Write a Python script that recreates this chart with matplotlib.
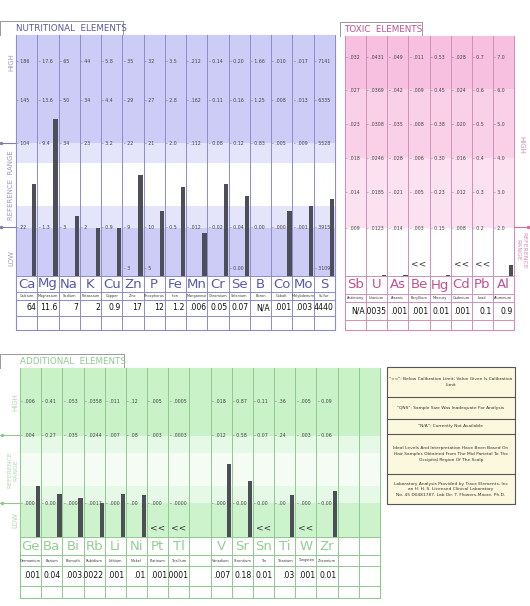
import matplotlib
matplotlib.use("Agg")
import matplotlib.pyplot as plt
from matplotlib.patches import Rectangle

W, H = 530, 606

# ---- nutritional ----
nut_sym = ["Ca","Mg","Na","K","Cu","Zn","P","Fe","Mn","Cr","Se","B","Co","Mo","S"]
nut_name = ["Calcium","Magnesium","Sodium","Potassium","Copper","Zinc","Phosphorus","Iron",
            "Manganese","Chromium","Selenium","Boron","Cobalt","Molybdenum","Sulfur"]
nut_val = ["64","11.6","7","2","0.9","17","12","1.2",".006","0.05","0.07","N/A",".001",".003","4440"]
nut_level = [.38,.65,.25,.20,.20,.42,.27,.37,.18,.38,.33,0,.27,.29,.32]
nut_rows = [.89,.73,.55,.20,.03]
nut_ticks = [["186","145","104","22",""],["17.6","13.6","9.4","1.3",""],["65","50","34","3",""],
             ["44","34","23","2",""],["5.8","4.4","3.2","0.9",""],["35","29","22","9","3"],
             ["32","27","21","10","5"],["3.5","2.8","2.0","0.5",""],[".212",".162",".112",".012",""],
             ["0.14","0.11","0.08","0.02",""],["0.20","0.16","0.12","0.04","0.00"],
             ["1.66","1.25","0.83","0.00",""],[".010",".008",".005",".000",""],
             [".017",".013",".009",".001",""],["7141","6335","5528","3915","3109"]]

# ---- toxic ----
tox_sym = ["Sb","U","As","Be","Hg","Cd","Pb","Al"]
tox_name = ["Antimony","Uranium","Arsenic","Beryllium","Mercury","Cadmium","Lead","Aluminum"]
tox_val = ["N/A",".0035",".001",".001","0.01",".001","0.1","0.9"]
tox_level = [0,.005,.005,0,.005,0,0,.045]
tox_below = [False,False,False,True,False,True,True,False]
tox_rows = [.91,.775,.63,.49,.35,.20]
tox_ticks = [[".032",".027",".023",".018",".014",".009"],[".0431",".0369",".0308",".0246",".0185",".0123"],
             [".049",".042",".035",".028",".021",".014"],[".011",".009",".008",".006",".005",".003"],
             ["0.53","0.45","0.38","0.30","0.23","0.15"],[".028",".024",".020",".016",".012",".008"],
             ["0.7","0.6","0.5","0.4","0.3","0.2"],["7.0","6.0","5.0","4.0","3.0","2.0"]]

# ---- additional ----
add_sym = ["Ge","Ba","Bi","Rb","Li","Ni","Pt","Tl","","V","Sr","Sn","Ti","W","Zr","",""]
add_name = ["Germanium","Barium","Bismuth","Rubidium","Lithium","Nickel","Platinum","Thallium","",
            "Vanadium","Strontium","Tin","Titanium","Tungsten","Zirconium","",""]
add_val = [".001","0.04",".003",".0022",".001",".01",".001",".0001","",
           ".007","0.18","0.01",".03",".001","0.01","",""]
add_level = [.30,.255,.23,.20,.255,.25,0,0,0,.43,.33,0,.25,0,.27,0,0]
add_below = [False]*6+[True,True,False,False,False,True,False,True,False,False,False]
add_rows = [.80,.60,.20]
add_ticks = [[".006",".004",".000"],["0.41","0.27","0.00"],[".053",".035",".000"],
             [".0358",".0244",".0017"],[".011",".007",".000"],[".12",".08",".00"],
             [".005",".003",".000"],[".0005",".0003",".0000"],["","",""],
             [".018",".012",".000"],["0.87","0.58","0.00"],["0.11","0.07","0.00"],
             [".36",".24",".00"],[".005",".003",".000"],["0.09","0.06","0.00"],["","",""],["","",""]]

legend_txt = ['"<<": Below Calibration Limit; Value Given Is Calibration\nLimit',
              '"QNS": Sample Size Was Inadequate For Analysis',
              '"N/A": Currently Not Available',
              'Ideal Levels And Interpretation Have Been Based On\nHair Samples Obtained From The Mid Parietal To The\nOccipital Region Of The Scalp',
              'Laboratory Analysis Provided by Trace Elements, Inc\nan H. H. S. Licensed Clinical Laboratory\nNo. 45 D0481787. Lab Dir. T. Flowers-Moore, Ph.D.']
legend_div = [367, 397, 419, 434, 474, 504]

fig = plt.figure(figsize=(W/100, H/100), dpi=100)
bg = fig.add_axes([0, 0, 1, 1])
bg.set_xlim(0, W); bg.set_ylim(H, 0); bg.axis("off")


def fax(x0, y0, x1, y1):
    return fig.add_axes([x0/W, 1-y1/H, (x1-x0)/W, (y1-y0)/H])


def panel(x0, y0, x1, y1, rows_y, sym, name, val, level, ticks, rows, bands, line_c,
          sym_c, title, tx0, title_w, title_c, below=None):
    n = len(sym)
    ax = fax(x0, y0, x1, y1)
    ax.set_xlim(0, n); ax.set_ylim(0, 1); ax.axis("off")
    for lo, hi, c in bands:
        ax.axhspan(lo, hi, color=c, lw=0)
    for i in range(n + 1):
        ax.axvline(i, color=line_c, lw=0.7)
    ax.bar([i + 0.86 for i in range(n)], level, width=0.2, color="#4e4e58", align="center")
    for i in range(n):
        for r, t in zip(rows, ticks[i]):
            if t:
                ax.text(i + 0.06, r, "- " + t, fontsize=3.4, va="center", color="#444")
        if below is not None and below[i]:
            ax.text(i + 0.5, 0.03, "<<", fontsize=6.5, ha="center", va="bottom", color="#333")
    # label rows
    cw = (x1 - x0) / n
    ry = rows_y
    for i in range(n + 1):
        bg.plot([x0 + i*cw]*2, [ry[0], ry[-1]], color=line_c, lw=0.7)
    for y in ry:
        bg.plot([x0, x1], [y, y], color=line_c, lw=0.7)
    for i in range(n):
        cx = x0 + (i + 0.5)*cw
        bg.text(cx, (ry[0]+ry[1])/2, sym[i], fontsize=9.5, ha="center", va="center", color=sym_c)
        bg.text(cx, (ry[1]+ry[2])/2, name[i], fontsize=2.5, ha="center", va="center", color="#333")
        bg.text(x0 + (i+1)*cw - 1.2, (ry[2]+ry[3])/2, val[i], fontsize=5.6, ha="right",
                va="center", color="#111")
    bg.add_patch(Rectangle((x0, y0), x1-x0, ry[-1]-y0, fill=False, ec=line_c, lw=0.8))
    bg.plot([tx0, tx0, tx0 + title_w, tx0 + title_w], [y0, y0-14, y0-14, y0], color="#999", lw=0.7)
    bg.text(x0 if tx0 < x0 - 10 else tx0 + 4, y0-6.5, title, fontsize=6.3, color=title_c, va="center")


panel(16, 35, 335, 276, [276, 292, 300, 316, 330], nut_sym, nut_name, nut_val, nut_level,
      nut_ticks, nut_rows,
      [(0, .20, "#ccccf6"), (.20, .29, "#e4e4fb"), (.29, .47, "#ffffff"),
       (.47, .55, "#e4e4fb"), (.55, 1, "#ccccf6")],
      "#8c8cc8", "#5858b0", "NUTRITIONAL  ELEMENTS", 0, 123, "#5a5aa0")

panel(345, 36, 514, 276, [276, 294, 302, 320, 330], tox_sym, tox_name, tox_val, tox_level,
      tox_ticks, tox_rows,
      [(.20, .49, "#fce2f0"), (.49, .78, "#fad0e8"), (.78, 1, "#f8c0e0")],
      "#d090b8", "#c05090", "TOXIC  ELEMENTS", 340, 82, "#c05090", tox_below)

panel(20, 368, 380, 537, [537, 555, 566, 586, 598], add_sym, add_name, add_val, add_level,
      add_ticks, add_rows,
      [(0, .2, "#cdf3cd"), (.2, .3, "#e6f9e6"), (.3, .5, "#f4fcf4"),
       (.5, .6, "#e6f9e6"), (.6, 1, "#c9f2c9")],
      "#90c890", "#8fd08f", "ADDITIONAL  ELEMENTS", 0, 124, "#90c890", add_below)

# side labels and reference markers
for y in (143, 227):
    bg.plot([0, 16], [y, y], color="#8080b0", lw=0.8); bg.plot(1, y, "o", ms=1.5, color="#8080b0")
bg.text(11, 62, "HIGH", rotation=90, fontsize=5, color="#9a9ac8", ha="center", va="center")
bg.text(11, 185, "REFERENCE  RANGE", rotation=90, fontsize=5, color="#9a9ac8", ha="center", va="center")
bg.text(11, 258, "LOW", rotation=90, fontsize=5, color="#9a9ac8", ha="center", va="center")

bg.plot([514, 530], [227, 227], color="#d070a8", lw=0.8); bg.plot(528, 227, "o", ms=1.5, color="#d070a8")
bg.text(521, 145, "HIGH", rotation=-90, fontsize=5, color="#d88ab8", ha="center", va="center")
bg.text(521, 250, "REFERENCE\nRANGE", rotation=-90, fontsize=4.5, color="#d88ab8", ha="center", va="center")

for y in (435, 503):
    bg.plot([0, 20], [y, y], color="#90c890", lw=0.8); bg.plot(2, y, "o", ms=1.5, color="#90c890")
bg.text(15, 402, "HIGH", rotation=90, fontsize=5, color="#b0d8b0", ha="center", va="center")
bg.text(13, 470, "REFERENCE\nRANGE", rotation=90, fontsize=4.5, color="#b0d8b0", ha="center", va="center")
bg.text(15, 520, "LOW", rotation=90, fontsize=5, color="#b0d8b0", ha="center", va="center")

# legend box
bg.add_patch(Rectangle((387, 367), 128, 137, fc="#fbf8de", ec="#555", lw=0.8))
for y in legend_div[1:-1]:
    bg.plot([387, 515], [y, y], color="#555", lw=0.8)
for t, a, b in zip(legend_txt, legend_div[:-1], legend_div[1:]):
    bg.text(451, (a+b)/2, t, fontsize=3.2, ha="center", va="center", color="#333", linespacing=1.5)

fig.savefig("out.png", dpi=100)
